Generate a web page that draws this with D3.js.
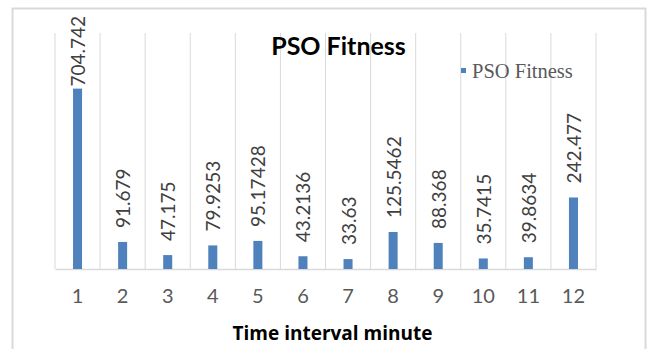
<!DOCTYPE html>
<html>
<head>
<meta charset="utf-8">
<script src="https://cdn.jsdelivr.net/npm/d3@7/dist/d3.min.js"></script>
<style>
  html, body { margin: 0; padding: 0; background: #fff; }
  svg { display: block; }
</style>
</head>
<body>
<svg id="chart" width="651" height="349"></svg>
<script>
// Fitness per time interval
const categories = ["1", "2", "3", "4", "5", "6", "7", "8", "9", "10", "11", "12"];
const fitness = [704.742, 91.679, 47.175, 79.9253, 95.17428, 43.2136, 33.63, 125.5462, 88.368, 35.7415, 39.8634, 242.477];
const valueLabels = ["704.742", "91.679", "47.175", "79.9253", "95.17428", "43.2136", "33.63", "125.5462", "88.368", "35.7415", "39.8634", "242.477"];
const chartTitle = "PSO Fitness";
const seriesName = "PSO Fitness";
const xTitle = "Time interval minute";

const blue = "#4f81bd";
const grid = "#d9d9d9";
const sansFont = "Lato, 'Open Sans', sans-serif";

const svg = d3.select("#chart");

// outer chart frame
svg.append("rect")
  .attr("x", 12.5).attr("y", 8.5)
  .attr("width", 633).attr("height", 360)
  .attr("fill", "#fff")
  .attr("stroke", grid)
  .attr("stroke-width", 2);

const plot = { left: 55, right: 596, top: 33, bottom: 269 };

const x = d3.scaleBand()
  .domain(categories)
  .range([plot.left, plot.right])
  .paddingInner(0.8)
  .paddingOuter(0.4);

const y = d3.scaleLinear()
  .domain([0, 800])
  .range([plot.bottom, plot.top]);

const step = x.step();

// vertical gridlines on category boundaries
const edges = d3.range(categories.length + 1).map(i => plot.left + i * step);
svg.append("g")
  .selectAll("line")
  .data(edges)
  .join("line")
  .attr("x1", d => d).attr("x2", d => d)
  .attr("y1", plot.top).attr("y2", plot.bottom)
  .attr("stroke", grid)
  .attr("stroke-width", 1);

// category axis
const xAxis = svg.append("g")
  .attr("transform", `translate(0,${plot.bottom})`)
  .call(d3.axisBottom(x).tickSize(0).tickPadding(20));
xAxis.select(".domain")
  .attr("stroke", grid)
  .attr("stroke-width", 1.5);
xAxis.selectAll("text")
  .attr("fill", "#595959")
  .style("font-family", sansFont)
  .style("font-size", "20px");

// bars
svg.append("g")
  .selectAll("rect")
  .data(fitness)
  .join("rect")
  .attr("x", (d, i) => x(categories[i]))
  .attr("y", d => y(d))
  .attr("width", x.bandwidth())
  .attr("height", d => y(0) - y(d))
  .attr("fill", blue);

// rotated value labels above the bars
const labelLayer = svg.append("g");
fitness.forEach((v, i) => {
  const cx = x(categories[i]) + x.bandwidth() / 2;
  const g = labelLayer.append("g");
  const t = g.append("text")
    .text(valueLabels[i])
    .attr("text-anchor", "start")
    .attr("dominant-baseline", "central")
    .attr("fill", "#404040")
    .style("font-family", sansFont)
    .style("font-size", "19px");
  const len = t.node().getComputedTextLength();
  const start = Math.max(y(v) - 14, 16 + len);
  g.insert("rect", "text")
    .attr("x", -2).attr("y", -9)
    .attr("width", len + 4).attr("height", 18)
    .attr("fill", "#fff");
  g.attr("transform", `translate(${cx},${start}) rotate(-90)`);
});

// title
svg.append("text")
  .attr("x", 338.5).attr("y", 55)
  .attr("text-anchor", "middle")
  .attr("fill", "#000")
  .style("font-family", sansFont)
  .style("font-weight", "bold")
  .style("font-size", "25px")
  .text(chartTitle);

// legend
const legend = svg.append("g").attr("transform", "translate(461,78)");
legend.append("rect")
  .attr("x", 0).attr("y", -10)
  .attr("width", 5).attr("height", 5)
  .attr("fill", blue);
legend.append("text")
  .attr("x", 11).attr("y", 0)
  .attr("fill", "#595959")
  .style("font-family", "'Liberation Serif', 'Times New Roman', serif")
  .style("font-size", "20.5px")
  .text(seriesName);

// axis title
svg.append("text")
  .attr("x", 332.5).attr("y", 340)
  .attr("text-anchor", "middle")
  .attr("fill", "#000")
  .style("font-family", "'Open Sans', Lato, sans-serif")
  .style("font-weight", "bold")
  .style("font-size", "19px")
  .text(xTitle);
</script>
</body>
</html>
